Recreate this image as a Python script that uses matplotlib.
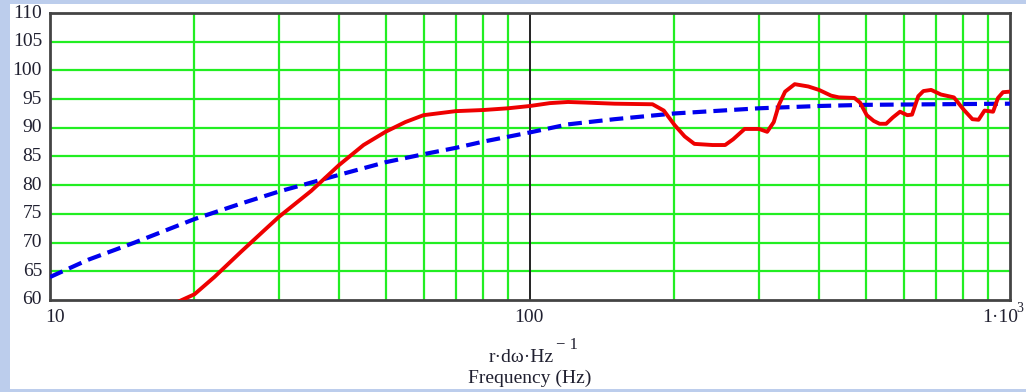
import matplotlib
matplotlib.use("Agg")
import matplotlib.pyplot as plt
from matplotlib.patches import Rectangle

# Measured response (red) and model response (blue), level in dB vs frequency in Hz
red_freq = [18.6, 20, 22, 25, 28, 30, 35, 40, 45, 50, 55, 60, 70, 80, 90, 100,
            110, 120, 130, 150, 180, 190, 200, 210, 220, 240, 255, 265, 280, 300,
            312, 322, 330, 340, 356, 380, 400, 424, 440, 474, 487, 503, 520, 535,
            552, 570, 590, 611, 625, 644, 660, 685, 718, 764, 800, 835, 860, 885,
            922, 944, 967, 1000]
red_db = [59.8, 61.0, 64.0, 68.4, 72.2, 74.5, 79.0, 83.5, 87.0, 89.3, 91.0, 92.2,
          92.9, 93.1, 93.4, 93.8, 94.3, 94.5, 94.4, 94.2, 94.1, 93.0, 90.5, 88.5,
          87.2, 87.0, 87.0, 88.0, 89.8, 89.8, 89.3, 91.0, 94.0, 96.3, 97.6, 97.2,
          96.6, 95.6, 95.3, 95.2, 94.4, 92.2, 91.2, 90.7, 90.7, 91.8, 92.8, 92.2,
          92.3, 95.5, 96.4, 96.6, 95.8, 95.3, 93.2, 91.5, 91.4, 93.0, 92.8, 95.2,
          96.2, 96.3]

blue_freq = [10, 12, 15, 20, 25, 30, 40, 50, 60, 70, 80, 100, 120, 150, 200,
             300, 400, 500, 700, 1000]
blue_db = [64.0, 67.0, 70.0, 74.1, 76.8, 78.9, 81.8, 84.0, 85.4, 86.5, 87.6,
           89.2, 90.6, 91.5, 92.5, 93.4, 93.8, 94.0, 94.1, 94.2]

y_ticks = [60, 65, 70, 75, 80, 85, 90, 95, 100, 105, 110]
x_minor = [20, 30, 40, 50, 60, 70, 80, 90, 200, 300, 400, 500, 600, 700, 800, 900]

W, H = 1026, 392
fig = plt.figure(figsize=(W / 100, H / 100), dpi=100)
fig.patch.set_facecolor("#bccdec")
fig.patches.append(Rectangle((10 / W, (H - 389) / H), 1, (389 - 4) / H,
                             transform=fig.transFigure, facecolor="white",
                             edgecolor="none", zorder=-5))

ax = fig.add_axes([50 / W, (H - 300) / H, 960 / W, 287 / H], zorder=2)
ax.set_xscale("log")
ax.set_xlim(10, 1000)
ax.set_ylim(60, 110)

grid_green = "#22ee22"
for y in y_ticks[1:-1]:
    ax.axhline(y, color=grid_green, lw=1.6, zorder=1)
for x in x_minor:
    ax.axvline(x, color=grid_green, lw=1.6, zorder=1)
ax.axvline(100, color="#222222", lw=1.4, zorder=1)

ax.plot(blue_freq, blue_db, color="#0000ee", lw=3.0, ls=(0, (3.3, 1.7)),
        zorder=3)
ax.plot(red_freq, red_db, color="#ee0000", lw=2.8, zorder=4)

for s in ax.spines.values():
    s.set_color("#444444")
    s.set_linewidth(2.0)

ax.set_xticks([])
ax.set_yticks([])
ax.minorticks_off()

font = {"family": "Liberation Serif", "size": 14, "color": "#202030"}
for y in y_ticks:
    ax.text(-8 / 960, (y - 60) / 50, str(y), transform=ax.transAxes,
            ha="right", va="center", **font)

fig.text(55 / W, (H - 318) / H, "10", ha="center", va="center", **font)
fig.text(529 / W, (H - 318) / H, "100", ha="center", va="center", **font)
fig.text(1000 / W, (H - 318) / H, "1\u00b710", ha="center", va="center", **font)
fig.text(1020 / W, (H - 308) / H, "3", ha="center", va="center",
         family="Liberation Serif", size=10, color="#202030")

fig.text(521 / W, (H - 358) / H, "r\u00b7d\u03c9\u00b7Hz", ha="center",
         va="center", **font)
fig.text(567 / W, (H - 345) / H, "\u2212 1", ha="center", va="center",
         family="Liberation Serif", size=12, color="#202030")
fig.text(530 / W, (H - 378) / H, "Frequency (Hz)", ha="center",
         va="center", **font)

fig.savefig("out.png", dpi=100, facecolor=fig.get_facecolor())
